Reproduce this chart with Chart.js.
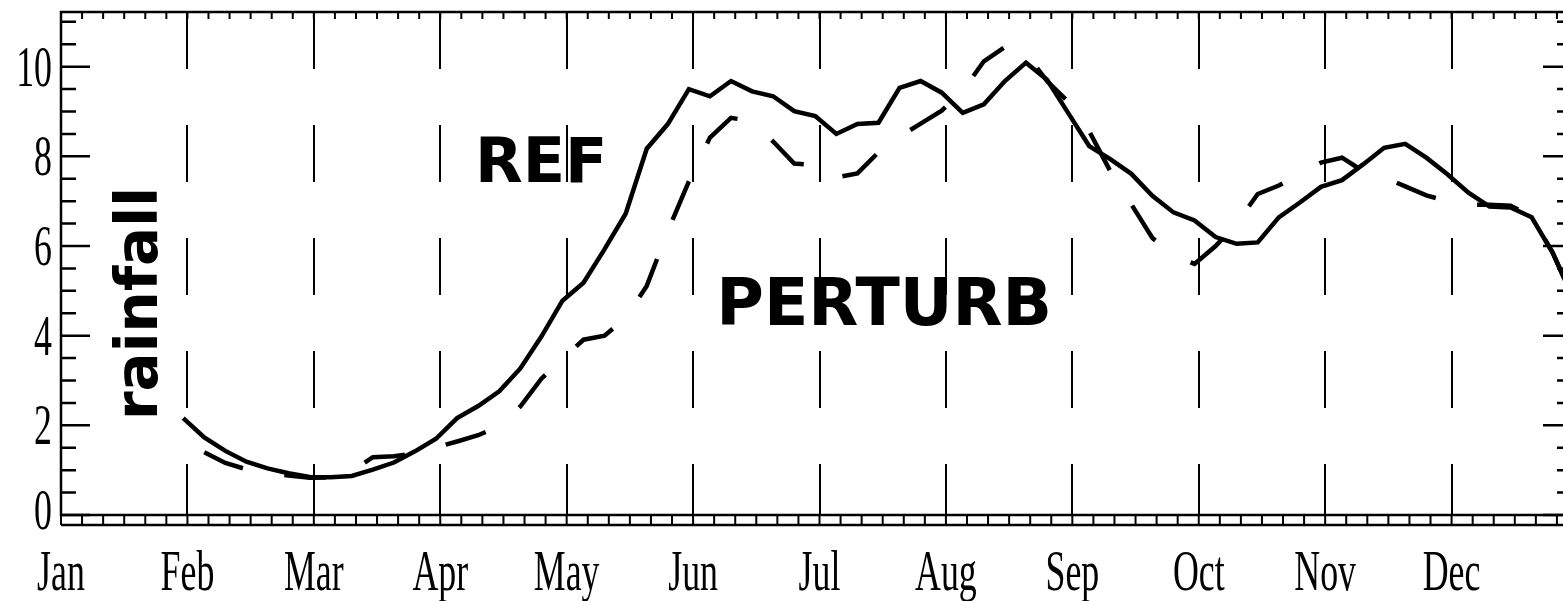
<!DOCTYPE html>
<html>
<head>
<meta charset="utf-8">
<script src="https://cdn.jsdelivr.net/npm/chart.js@4/dist/chart.umd.min.js"></script>
<style>
  html, body { margin: 0; padding: 0; background: #fff; overflow: hidden; }
  #wrap { width: 1582px; height: 601px; }
</style>
</head>
<body>
<div id="wrap"><canvas id="rainChart" width="1582" height="601"></canvas></div>
<script>
// === Data (pentad values, 6 pentads per month) ===
const monthLabels = ["Jan", "Feb", "Mar", "Apr", "May", "Jun", "Jul", "Aug", "Sep", "Oct", "Nov", "Dec"];
const yTickLabels = [0, 2, 4, 6, 8, 10];

const refFirstPentad = 5;
const refRain = [
  2.16, 1.73, 1.43, 1.19, 1.04, 0.93, 0.85, 0.84, 0.87, 1.01,
  1.17, 1.42, 1.70, 2.16, 2.43, 2.76, 3.27, 3.98, 4.78, 5.18,
  5.93, 6.72, 8.17, 8.72, 9.50, 9.34, 9.68, 9.45, 9.34, 9.01,
  8.90, 8.50, 8.72, 8.75, 9.53, 9.68, 9.42, 8.97, 9.16, 9.68,
  10.09, 9.71, 8.97, 8.23, 7.94, 7.61, 7.12, 6.75, 6.57, 6.20,
  6.05, 6.08, 6.64, 6.97, 7.32, 7.47, 7.82, 8.19, 8.28, 7.97,
  7.60, 7.19, 6.88, 6.86, 6.64, 5.85, 4.80
];

const perturbFirstPentad = 6;
const perturbRain = [
  1.40, 1.16, 1.02, 0.95, 0.88, 0.83, 0.84, 0.98, 1.29, 1.31,
  1.38, 1.51, 1.64, 1.78, 1.98, 2.42, 3.04, 3.49, 3.91, 4.00,
  4.40, 5.11, 6.33, 7.44, 8.42, 8.86, 8.78, 8.33, 7.84, 7.80,
  7.53, 7.62, 8.09, 8.44, 8.73, 9.02, 9.46, 10.12, 10.44, 10.29,
  9.68, 9.22, 8.56, 7.67, 6.93, 6.18, 5.78, 5.60, 6.00, 6.51,
  7.16, 7.35, 7.60, 7.86, 7.97, 7.67, 7.53, 7.33, 7.13, 7.00,
  6.92, 6.92, 6.90, 6.66, 5.85, 4.80
];

// each pentad value sits near the end of its 5-day slot
const PENTAD_POS = 0.8;
function toPoints(first, values) {
  return values.map((v, i) => ({ x: first + i + PENTAD_POS, y: v }));
}

const SERIF = "'Liberation Serif', 'DejaVu Serif', serif";
const SANS = "'DejaVu Sans', sans-serif";

// narrow serif text like the original plot
function condensedText(ctx, text, x, y, align) {
  ctx.save();
  ctx.translate(x, y);
  ctx.scale(0.64, 1);
  ctx.textAlign = align;
  ctx.fillText(text, 0, 0);
  ctx.restore();
}

// === Frame, ticks and labels ===
const axisDecor = {
  id: "axisDecor",
  afterDatasetsDraw(chart) {
    const { ctx, chartArea: a, scales: { x, y } } = chart;
    ctx.save();
    ctx.strokeStyle = "#000";
    ctx.fillStyle = "#000";
    ctx.lineWidth = 2.5;

    // box + second bottom line
    ctx.strokeRect(a.left, a.top, a.right - a.left, a.bottom - a.top);
    ctx.beginPath();
    ctx.moveTo(a.left, a.bottom + 10);
    ctx.lineTo(a.right, a.bottom + 10);
    ctx.stroke();

    // pentad ticks on top and bottom
    ctx.lineWidth = 2;
    ctx.beginPath();
    for (let k = 0; k <= 72; k++) {
      const px = x.getPixelForValue(k);
      ctx.moveTo(px, a.top);
      ctx.lineTo(px, a.top + 7);
      ctx.moveTo(px, a.bottom);
      ctx.lineTo(px, a.bottom + 10);
    }
    ctx.stroke();

    // y ticks on both sides
    ctx.lineWidth = 2.5;
    ctx.beginPath();
    for (let v = 0; v <= 11; v += 0.5) {
      const py = y.getPixelForValue(v);
      const major = v % 2 === 0;
      const len = major ? 29 : 15;
      ctx.moveTo(a.left, py);
      ctx.lineTo(a.left + len, py);
      ctx.moveTo(a.right, py);
      ctx.lineTo(a.right - len - 6, py);
    }
    ctx.stroke();

    // tick labels
    ctx.font = "56px " + SERIF;
    ctx.textBaseline = "alphabetic";
    yTickLabels.forEach(v => {
      const py = Math.min(y.getPixelForValue(v), a.bottom - 5);
      condensedText(ctx, String(v), a.left - 9, py + 19, "right");
    });
    monthLabels.forEach((m, i) => {
      condensedText(ctx, m, x.getPixelForValue(i * 6), a.bottom + 75, "center");
    });

    // axis title
    ctx.font = "bold 58px " + SANS;
    ctx.save();
    ctx.translate(a.left + 96, (a.top + a.bottom) / 2 + 40);
    ctx.rotate(-Math.PI / 2);
    ctx.textAlign = "center";
    ctx.fillText("rainfall", 0, 0);
    ctx.restore();

    // series names
    ctx.textAlign = "left";
    ctx.font = "bold 62px " + SANS;
    ctx.fillText("REF", x.getPixelForValue(19.65), y.getPixelForValue(7.42));
    ctx.font = "bold 65px " + SANS;
    ctx.fillText("PERTURB", x.getPixelForValue(31.1), y.getPixelForValue(4.23));
    ctx.restore();
  }
};

new Chart(document.getElementById("rainChart"), {
  type: "line",
  data: {
    datasets: [
      {
        label: "REF",
        data: toPoints(refFirstPentad, refRain),
        borderColor: "#000",
        borderWidth: 4.5,
        pointRadius: 0,
        tension: 0,
        fill: false
      },
      {
        label: "PERTURB",
        data: toPoints(perturbFirstPentad, perturbRain),
        borderColor: "#000",
        borderWidth: 4.5,
        borderDash: [42, 42],
        pointRadius: 0,
        tension: 0,
        fill: false
      }
    ]
  },
  options: {
    responsive: false,
    animation: false,
    layout: { padding: { left: 61, top: 12, right: 4, bottom: 86 } },
    plugins: { legend: { display: false }, tooltip: { enabled: false } },
    scales: {
      x: {
        type: "linear",
        min: 0,
        max: 72,
        ticks: { display: false, stepSize: 6 },
        grid: { color: "#000", lineWidth: 2, drawTicks: false },
        border: { display: false, dash: [57, 56] }
      },
      y: {
        display: false,
        min: 0,
        max: 11.22
      }
    }
  },
  plugins: [axisDecor]
});
</script>
</body>
</html>
